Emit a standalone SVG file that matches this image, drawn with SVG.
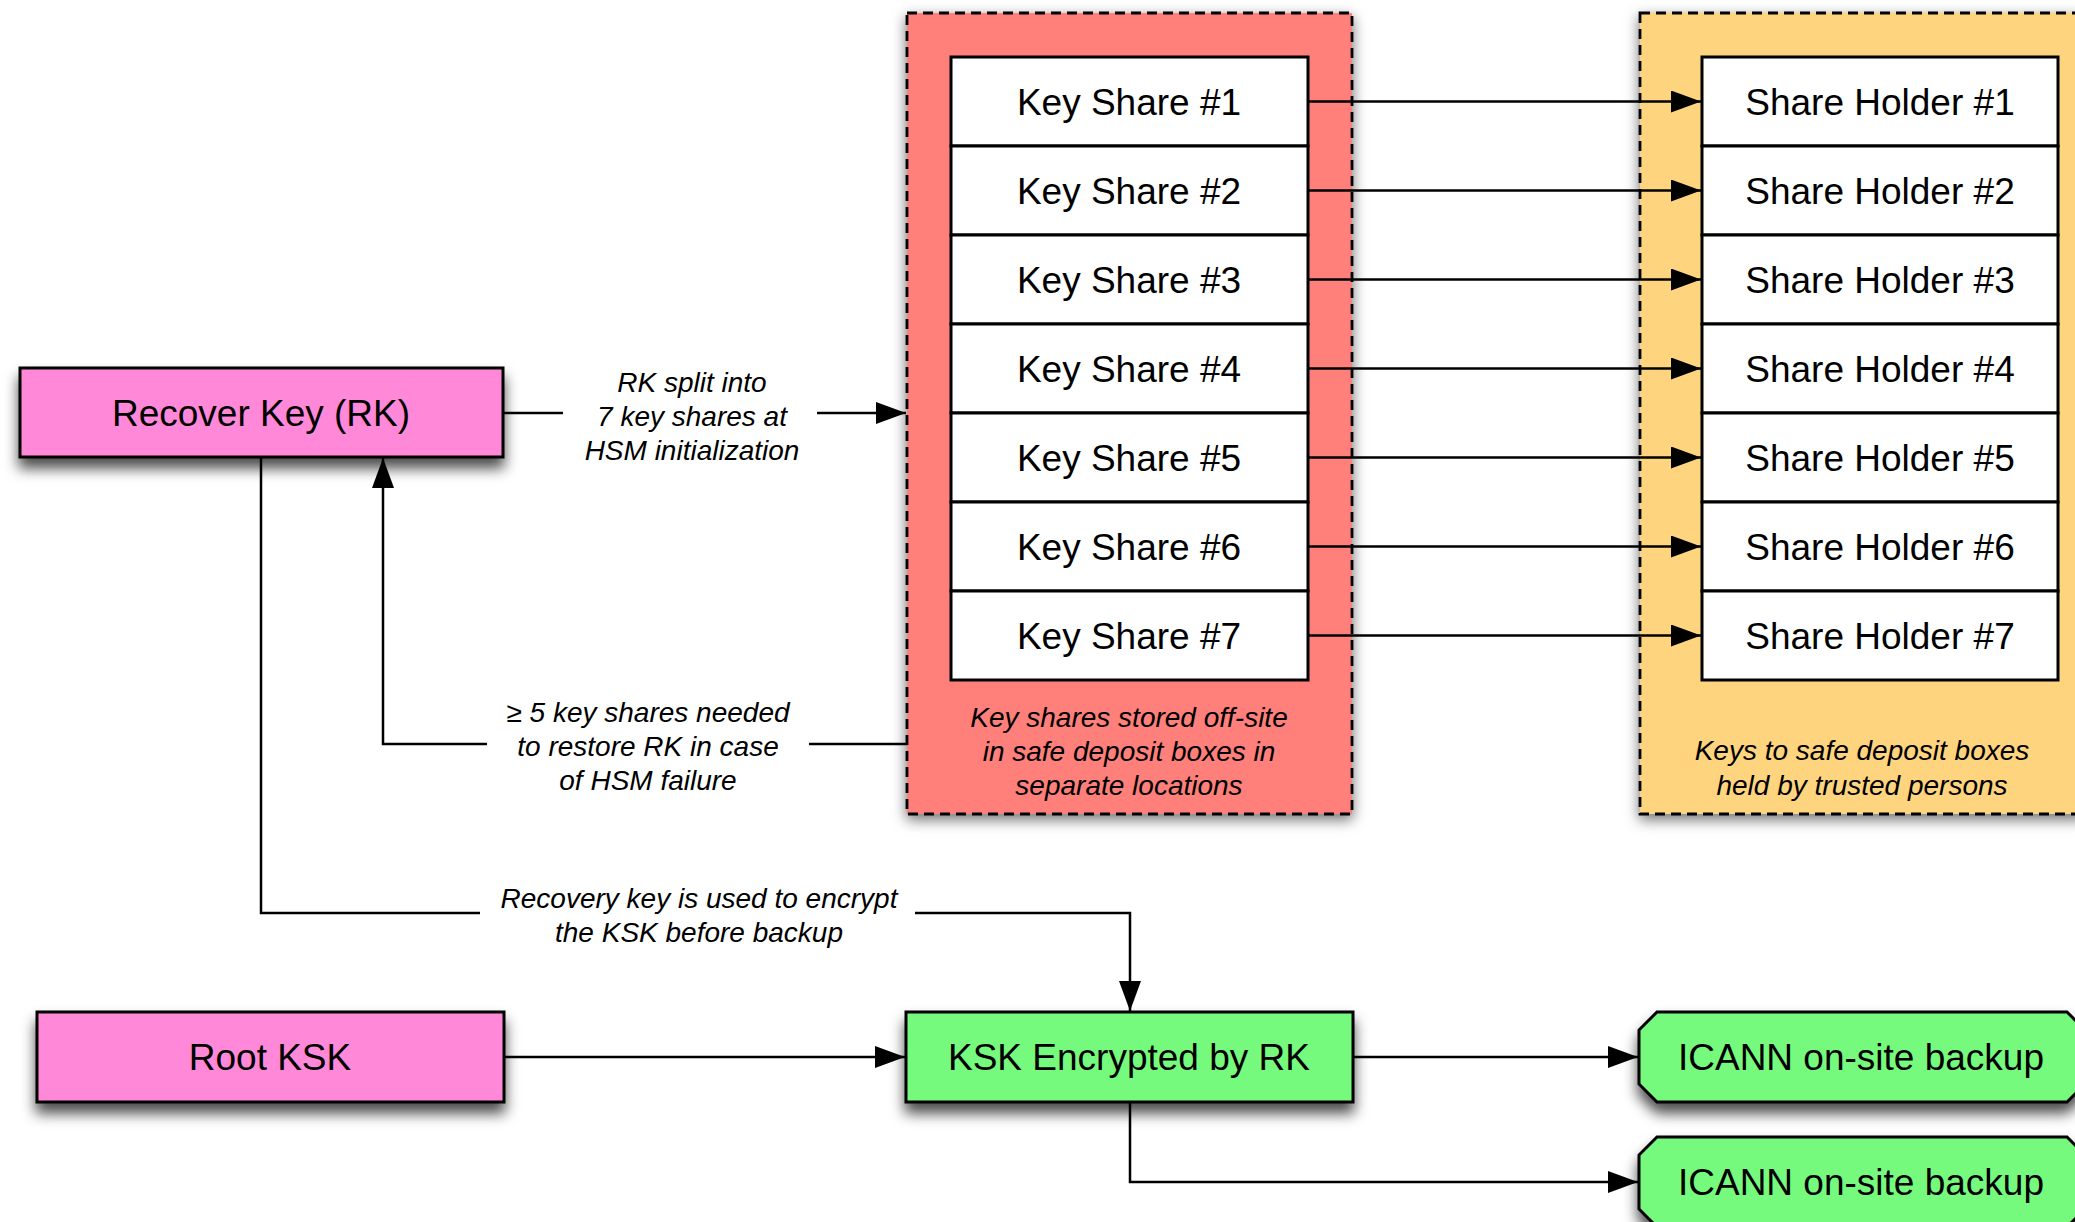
<svg xmlns="http://www.w3.org/2000/svg" width="2075" height="1222" viewBox="0 0 2075 1222">
<defs>
<filter id="sh" x="-10%" y="-20%" width="120%" height="160%">
<feDropShadow dx="0" dy="10" stdDeviation="7" flood-color="#000" flood-opacity="0.7"/>
</filter>
<filter id="shc" x="-10%" y="-5%" width="120%" height="110%">
<feDropShadow dx="0" dy="5" stdDeviation="7" flood-color="#000" flood-opacity="0.55"/>
</filter>
<marker id="ah" viewBox="0 0 30 22" refX="30" refY="11" markerWidth="30" markerHeight="22" markerUnits="userSpaceOnUse" orient="auto">
<path d="M0,0 L30,11 L0,22 Z" fill="#000"/>
</marker>
<style>
.bg{fill:#fff}
.node{stroke:#000;stroke-width:3}
.pink{fill:#FF88D8}
.green{fill:#76FA7D}
.cell{fill:#fff;stroke:#000;stroke-width:3}
.cont{stroke:#000;stroke-width:2.8;stroke-dasharray:10 6}
.red{fill:#FF7F7A}
.yel{fill:#FFD47E}
.t{font-family:"Liberation Sans",Arial,sans-serif;font-size:37px;fill:#000;text-anchor:middle}
.it{font-family:"Liberation Sans",Arial,sans-serif;font-size:28px;font-style:italic;fill:#000;text-anchor:middle}
.c{fill:none;stroke:#000;stroke-width:2.5}
.ca{fill:none;stroke:#000;stroke-width:2.5;marker-end:url(#ah)}
</style>
</defs>
<rect class="bg" x="0" y="0" width="2075" height="1222"/>

<g id="keyshares-container">
<rect class="cont red" x="907" y="13" width="445" height="801" filter="url(#shc)"/>
<text class="it" x="1129" y="727">Key shares stored off-site</text>
<text class="it" x="1129" y="761">in safe deposit boxes in</text>
<text class="it" x="1129" y="795">separate locations</text>
</g>

<g id="holders-container">
<rect class="cont yel" x="1640" y="13" width="444" height="801" filter="url(#shc)"/>
<text class="it" x="1862" y="760">Keys to safe deposit boxes</text>
<text class="it" x="1862" y="795">held by trusted persons</text>
</g>

<g id="key-shares">
<g id="ks1"><rect class="cell" x="951" y="57" width="357" height="89"/><text class="t" x="1129" y="115">Key Share #1</text></g>
<g id="ks2"><rect class="cell" x="951" y="146" width="357" height="89"/><text class="t" x="1129" y="204">Key Share #2</text></g>
<g id="ks3"><rect class="cell" x="951" y="235" width="357" height="89"/><text class="t" x="1129" y="293">Key Share #3</text></g>
<g id="ks4"><rect class="cell" x="951" y="324" width="357" height="89"/><text class="t" x="1129" y="382">Key Share #4</text></g>
<g id="ks5"><rect class="cell" x="951" y="413" width="357" height="89"/><text class="t" x="1129" y="471">Key Share #5</text></g>
<g id="ks6"><rect class="cell" x="951" y="502" width="357" height="89"/><text class="t" x="1129" y="560">Key Share #6</text></g>
<g id="ks7"><rect class="cell" x="951" y="591" width="357" height="89"/><text class="t" x="1129" y="649">Key Share #7</text></g>
</g>

<g id="share-holders">
<g id="sh1"><rect class="cell" x="1702" y="57" width="356" height="89"/><text class="t" x="1880" y="115">Share Holder #1</text></g>
<g id="sh2"><rect class="cell" x="1702" y="146" width="356" height="89"/><text class="t" x="1880" y="204">Share Holder #2</text></g>
<g id="sh3"><rect class="cell" x="1702" y="235" width="356" height="89"/><text class="t" x="1880" y="293">Share Holder #3</text></g>
<g id="sh4"><rect class="cell" x="1702" y="324" width="356" height="89"/><text class="t" x="1880" y="382">Share Holder #4</text></g>
<g id="sh5"><rect class="cell" x="1702" y="413" width="356" height="89"/><text class="t" x="1880" y="471">Share Holder #5</text></g>
<g id="sh6"><rect class="cell" x="1702" y="502" width="356" height="89"/><text class="t" x="1880" y="560">Share Holder #6</text></g>
<g id="sh7"><rect class="cell" x="1702" y="591" width="356" height="89"/><text class="t" x="1880" y="649">Share Holder #7</text></g>
</g>

<g id="recover-key">
<rect class="node pink" x="20" y="368" width="483" height="89" filter="url(#sh)"/>
<text class="t" x="261" y="426">Recover Key (RK)</text>
</g>

<g id="root-ksk">
<rect class="node pink" x="37" y="1012" width="467" height="90" filter="url(#sh)"/>
<text class="t" x="270" y="1070">Root KSK</text>
</g>

<g id="ksk-encrypted">
<rect class="node green" x="906" y="1012" width="447" height="90" filter="url(#sh)"/>
<text class="t" x="1129" y="1070">KSK Encrypted by RK</text>
</g>

<g id="backup1">
<path class="node green" d="M1657,1012 L2067,1012 L2085,1030 L2085,1084 L2067,1102 L1657,1102 L1639,1084 L1639,1030 Z" filter="url(#sh)"/>
<text class="t" x="1861" y="1070">ICANN on-site backup</text>
</g>

<g id="backup2">
<path class="node green" d="M1657,1137 L2067,1137 L2085,1155 L2085,1209 L2067,1227 L1657,1227 L1639,1209 L1639,1155 Z" filter="url(#sh)"/>
<text class="t" x="1861" y="1195">ICANN on-site backup</text>
</g>

<g id="connectors">
<line class="ca" x1="1308" y1="101.5" x2="1701" y2="101.5"/>
<line class="ca" x1="1308" y1="190.5" x2="1701" y2="190.5"/>
<line class="ca" x1="1308" y1="279.5" x2="1701" y2="279.5"/>
<line class="ca" x1="1308" y1="368.5" x2="1701" y2="368.5"/>
<line class="ca" x1="1308" y1="457.5" x2="1701" y2="457.5"/>
<line class="ca" x1="1308" y1="546.5" x2="1701" y2="546.5"/>
<line class="ca" x1="1308" y1="635.5" x2="1701" y2="635.5"/>

<line class="c" x1="503" y1="413" x2="563" y2="413"/>
<line class="ca" x1="817" y1="413" x2="906" y2="413"/>
<text class="it" x="692" y="392">RK split into</text>
<text class="it" x="692" y="426">7 key shares at</text>
<text class="it" x="692" y="460">HSM initialization</text>

<line class="c" x1="907" y1="744" x2="809" y2="744"/>
<polyline class="ca" points="487,744 383,744 383,458"/>
<text class="it" x="648" y="722">≥ 5 key shares needed</text>
<text class="it" x="648" y="756">to restore RK in case</text>
<text class="it" x="648" y="790">of HSM failure</text>

<polyline class="c" points="261,457 261,913 480,913"/>
<polyline class="ca" points="915,913 1130,913 1130,1011"/>
<text class="it" x="699" y="908">Recovery key is used to encrypt</text>
<text class="it" x="699" y="942">the KSK before backup</text>

<line class="ca" x1="504" y1="1057" x2="905" y2="1057"/>
<line class="ca" x1="1353" y1="1057" x2="1638" y2="1057"/>
<polyline class="ca" points="1130,1102 1130,1182 1638,1182"/>
</g>
</svg>
